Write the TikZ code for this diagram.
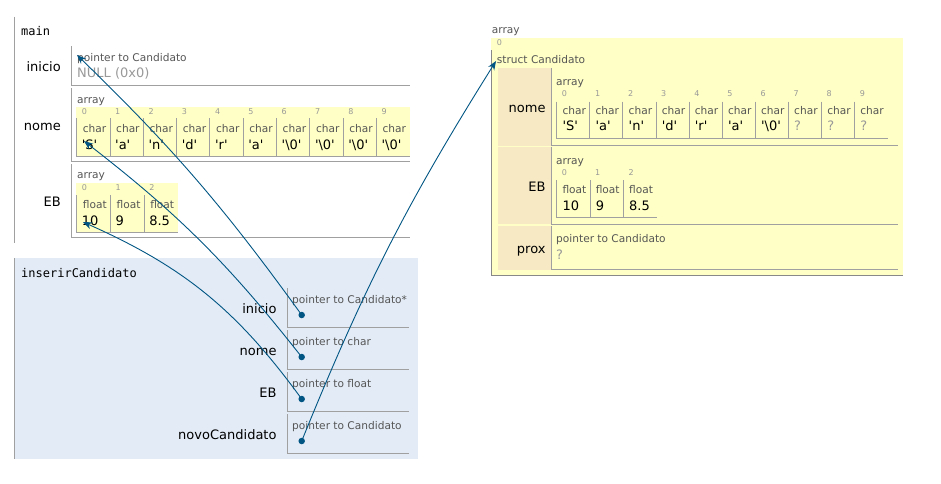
\documentclass[tikz,border=0pt]{standalone}
\usepackage{fontspec}
\setmainfont{DejaVu Sans}
\setmonofont{DejaVu Sans Mono}
\usepackage{tikz}
\usetikzlibrary{arrows.meta, positioning}
\definecolor{ptrblue}{HTML}{005583}
\definecolor{stackblue}{HTML}{E2EBF6}
\definecolor{cellyellow}{HTML}{FFFFC6}
\definecolor{fieldtan}{HTML}{F6E9C3}
\definecolor{typegray}{HTML}{555555}
\definecolor{idxgray}{HTML}{999999}
\definecolor{linegray}{HTML}{A0A0A0}
\definecolor{heapgray}{HTML}{888888}
\newcommand{\chq}[1]{\textquotesingle#1\textquotesingle}

\begin{document}
\begin{tikzpicture}[x=1pt, y=-1pt,
            frametitle/.style={anchor=base west, inner sep=0pt, font=\ttfamily\fontsize{12}{14}\selectfont},
            varname/.style  ={anchor=base east, inner sep=0pt, font=\fontsize{13}{15}\selectfont},
            typename/.style ={anchor=base west, inner sep=0pt, text=typegray, font=\fontsize{10.6}{12}\selectfont},
            idxnum/.style   ={anchor=base west, inner sep=0pt, text=idxgray, font=\fontsize{8}{9}\selectfont},
            valtext/.style  ={anchor=base west, inner sep=0pt, font=\fontsize{13}{15}\selectfont},
            unset/.style    ={valtext, text=idxgray},
            border/.style   ={draw=linegray, line width=1pt},
            ptrdot/.style   ={circle, fill=ptrblue, inner sep=0pt, minimum size=6.5pt},
            arr/.style      ={-{Stealth[length=9pt, width=7pt]}, ptrblue, line width=0.9pt}
        ]
            \useasboundingbox (0,0) rectangle (941,483);
            \fill[stackblue] (14,258.3) rectangle (417.7,459.3);
            \draw[linegray, line width=1.5pt] (14.3,16.7) -- (14.3,243.3);
            \draw[linegray, line width=1.5pt] (14.3,258.3) -- (14.3,459.3);
            \node[frametitle] (main)    at (21,35)    {main};
            \node[frametitle] (inserir) at (21,277.5) {inserirCandidato};

            \draw[border] (71.7,46) |- (410,85.3);
            \node[varname]  (mInicio)  at (61,71.5) {inicio};
            \node[typename] (mInicioT) at (77,61.5) {pointer to Candidato};
            \node[unset]    (mInicioV) at (77,77)   {NULL (0x0)};

            \draw[border] (71.7,88.3) |- (410,161);
            \node[varname]  (mNome)  at (61,130) {nome};
            \node[typename] (mNomeA) at (77,103) {array};
            \fill[cellyellow] (76,106.7) rectangle (410,156.7);
            \foreach \v [count=\i from 0] in {\chq{S},\chq{a},\chq{n},\chq{d},\chq{r},\chq{a},
                    \chq{\textbackslash0},\chq{\textbackslash0},\chq{\textbackslash0},\chq{\textbackslash0}} {
                \pgfmathsetmacro\cx{76.7+33.3*\i}
                \draw[border] (\cx,118) |- (\cx+33.3,156);
                \node[idxnum]   (mNome\i i) at (\cx+5,114)  {\i};
                \node[typename] (mNome\i t) at (\cx+6,132)  {char};
                \node[valtext]  (mNome\i)   at (\cx+5,149)  {\v};
            }

            \draw[border] (71.7,164) |- (410,237.3);
            \node[varname]  (mEB)  at (61,206) {EB};
            \node[typename] (mEBA) at (77,178) {array};
            \fill[cellyellow] (76,182.7) rectangle (177.7,232.3);
            \foreach \v [count=\i from 0] in {10,9,8.5} {
                \pgfmathsetmacro\cx{76.7+33.7*\i}
                \draw[border] (\cx,195) |- (\cx+33.7,232.3);
                \node[idxnum]   (mEB\i i) at (\cx+5,190.5) {\i};
                \node[typename] (mEB\i t) at (\cx+6,208)   {float};
                \node[valtext]  (mEB\i)   at (\cx+5,225)   {\v};
            }

            \foreach \n/\t/\y in {inicio/pointer to Candidato*/288, nome/pointer to char/330,
                    EB/pointer to float/372, novoCandidato/pointer to Candidato/414} {
                \draw[border] (287.3,\y) |- (409.3,\y+39.3);
                \node[varname]  (s\n)   at (276.7,\y+25)   {\n};
                \node[typename] (s\n-t) at (292,\y+15.3)   {\t};
                \node[ptrdot]   (d\n)   at (301.7,\y+27)   {};
            }

            \node[typename] (hArray) at (491.7,33.3) {array};
            \fill[cellyellow] (491,37.7) rectangle (903.3,276);
            \node[idxnum] (hIdx) at (496.7,45) {0};
            \draw[heapgray, line width=1pt] (491.7,50) |- (902.7,275);
            \node[typename] (hStruct) at (496.7,63.3) {struct Candidato};
            \foreach \f/\top/\bot in {nome/68.3/145.5, EB/146.7/224.3, prox/226/269.5} {
                \fill[fieldtan] (497.7,\top) rectangle (550.7,\bot);
                \draw[border] (551.7,\top) |- (897.7,\bot);
                \node[varname] (h\f) at (545.7,{(\top+\bot)/2+5.8}) {\f};
            }

            \node[typename] (hNomeA) at (556,85) {array};
            \foreach \v/\s [count=\i from 0] in {\chq{S}/valtext,\chq{a}/valtext,\chq{n}/valtext,
                    \chq{d}/valtext,\chq{r}/valtext,\chq{a}/valtext,\chq{\textbackslash0}/valtext,
                    ?/unset,?/unset,?/unset} {
                \pgfmathsetmacro\cx{556.7+33.1*\i}
                \draw[border] (\cx,101.7) |- (\cx+33.1,138.3);
                \node[idxnum]   (hNome\i i) at (\cx+5,96.7)   {\i};
                \node[typename] (hNome\i t) at (\cx+5.6,114.3) {char};
                \node[\s]       (hNome\i)   at (\cx+5.6,130.7) {\v};
            }

            \node[typename] (hEBA) at (556,164) {array};
            \foreach \v [count=\i from 0] in {10,9,8.5} {
                \pgfmathsetmacro\cx{556.7+33.3*\i}
                \draw[border] (\cx,180) |- (\cx+33.3,217.3);
                \node[idxnum]   (hEB\i i) at (\cx+5,175.7)   {\i};
                \node[typename] (hEB\i t) at (\cx+5.6,193.3) {float};
                \node[valtext]  (hEB\i)   at (\cx+5.6,210)   {\v};
            }

            \node[typename] (hProxT) at (556,242.3) {pointer to Candidato};
            \node[unset]    (hProxV) at (556,259)   {?};

            \coordinate (tInicio) at (77,55);
            \coordinate (tNome)   at (84,141);
            \coordinate (tEB)     at (83,222);
            \coordinate (tHeap)   at (496,61);

            \draw[arr] (dinicio.center)        to[bend right=5]  (tInicio);
            \draw[arr] (dnome.center)          to[bend right=7]  (tNome);
            \draw[arr] (dEB.center)            to[bend right=15] (tEB);
            \draw[arr] (dnovoCandidato.center) to[bend left=5]   (tHeap);
        \end{tikzpicture}
\end{document}
